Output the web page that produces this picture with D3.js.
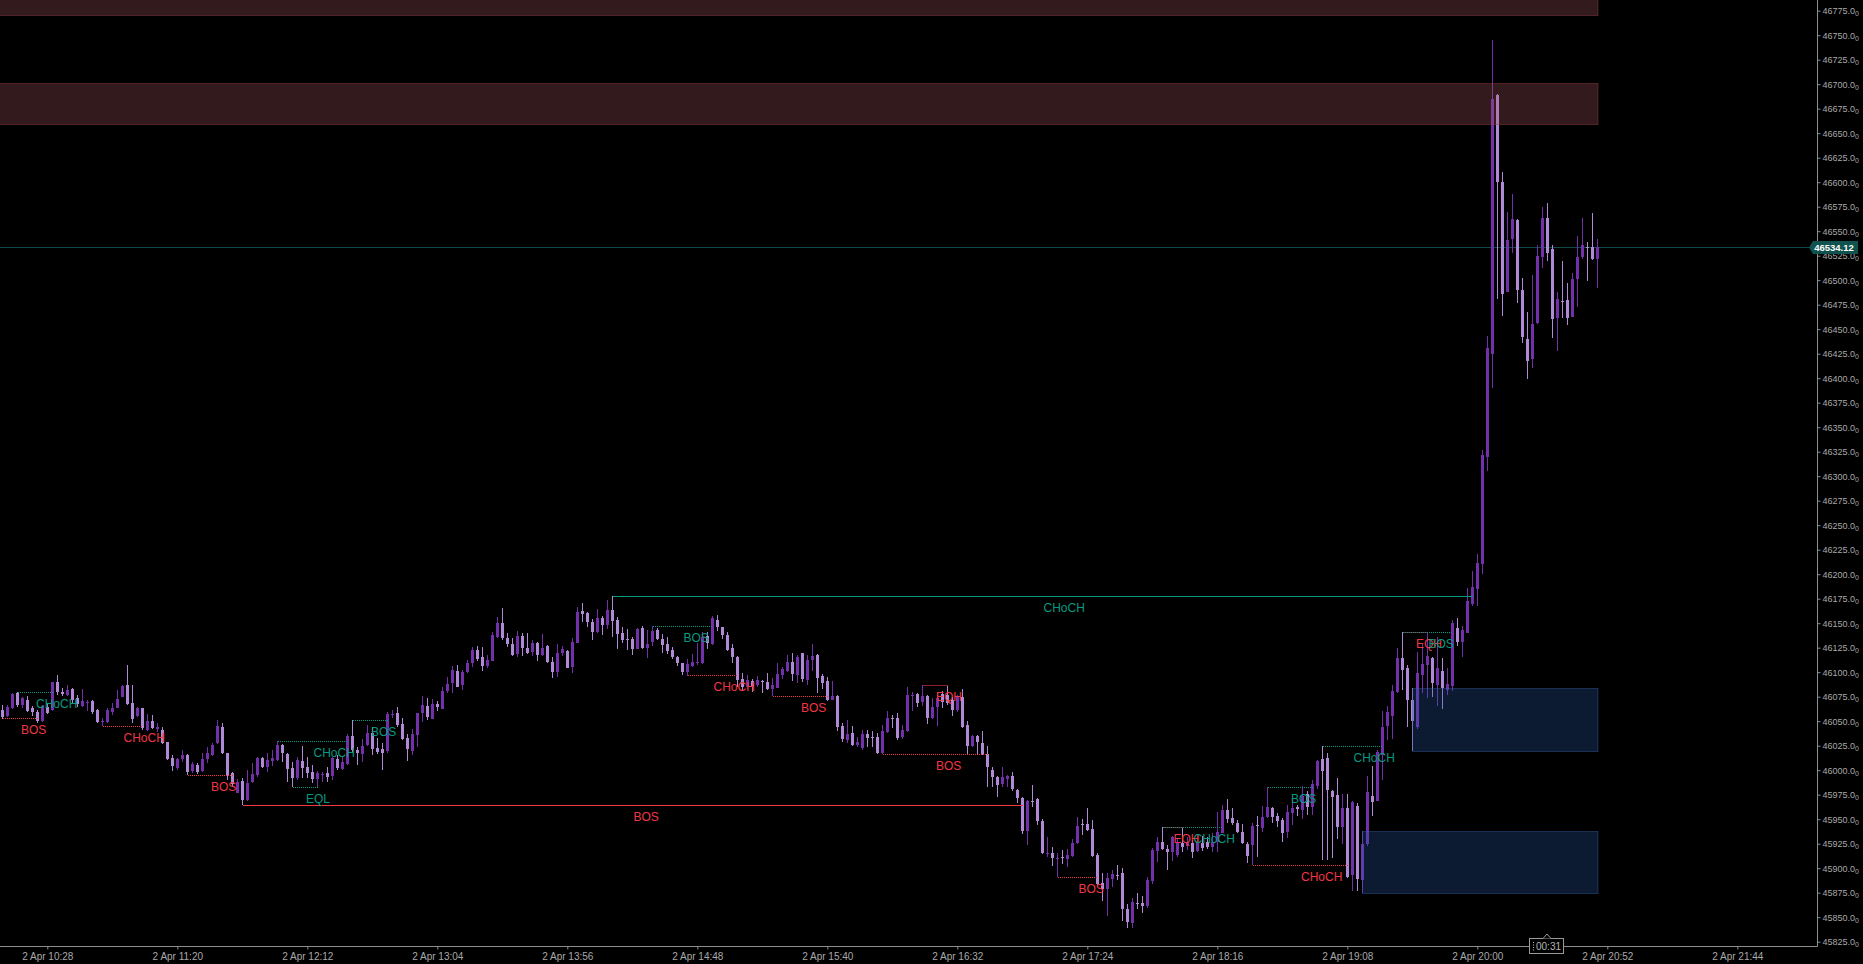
<!DOCTYPE html>
<html><head><meta charset="utf-8">
<script src="https://cdn.jsdelivr.net/npm/d3@7"></script>
<style>html,body{margin:0;padding:0;background:#000;overflow:hidden}</style>
</head><body>
<svg id="chart" width="1863" height="964"></svg>
<script>
// ---------------- DATA ----------------
const barMinutes = 2;
const firstBar = "2024-04-02 10:10";
const open = [
46061.5,46055.4,46063.2,46078.5,46066.6,46071.7,46063.2,46059.8,46050.6,46064.9,
46061.5,46089.7,46080.2,46076.8,46082.6,46073.4,46065.9,46069.7,46070.7,46061.5,
46050.3,46049.6,46059.8,46063.9,46075.1,46087.0,46068.3,46055.4,46063.2,46041.1,
46050.3,46041.8,46041.1,46028.5,46012.2,46002.7,46011.5,46015.6,45999.6,46005.4,
45999.6,46011.5,46015.6,46027.5,46043.8,46017.3,45996.9,45977.2,45989.4,45969.7,
45988.4,45995.2,46012.2,46003.7,46009.8,46010.5,46025.8,46016.3,46002.0,45991.8,
46009.8,46003.7,45997.9,45990.8,45996.2,45997.6,45994.2,46011.5,46001.3,46006.4,
46035.0,46020.7,46016.6,46025.8,46037.7,46022.4,46021.4,46020.0,46057.1,46058.1,
46047.2,46033.3,46020.0,46036.0,46058.1,46065.6,46052.3,46067.6,46062.5,46080.9,
46089.4,46101.3,46087.0,46100.6,46109.1,46122.7,46115.2,46106.4,46111.8,46136.3,
46150.6,46134.6,46128.8,46118.6,46137.0,46124.4,46120.3,46130.2,46117.6,46126.8,
46110.8,46100.6,46120.0,46122.0,46105.0,46130.2,46162.8,46160.8,46151.6,46141.4,
46155.7,46148.2,46163.5,46153.3,46140.4,46134.3,46133.6,46123.7,46144.8,46124.4,
46131.2,46143.1,46133.6,46128.8,46122.7,46115.2,46109.1,46100.6,46106.7,46109.8,
46109.8,46137.0,46128.8,46153.3,46145.8,46138.0,46124.4,46115.2,46092.8,46084.6,
46091.4,46087.0,46091.1,46090.4,46082.6,46083.6,46097.2,46101.6,46110.8,46097.2,
46119.3,46092.1,46112.5,46117.6,46096.2,46091.4,46071.7,46075.8,46045.2,46030.9,
46038.4,46025.8,46022.4,46037.0,46033.6,46033.6,46018.0,46039.4,46053.3,46053.0,
46033.6,46040.4,46076.5,46077.8,46070.0,46075.8,46053.0,46064.2,46077.8,46076.8,
46071.7,46061.5,46074.4,46046.2,46024.7,46034.9,46027.4,46016.5,46000.2,45993.4,
45985.9,45991.0,45994.1,45979.8,45971.3,45938.3,45968.2,45970.3,45948.5,45914.9,
45915.9,45909.8,45911.5,45909.4,45912.5,45925.4,45945.1,45945.1,45939.7,45913.5,
45885.3,45878.5,45888.7,45893.4,45895.5,45858.1,45844.5,45864.5,45864.9,45861.5,
45887.3,45917.9,45927.1,45919.3,45916.9,45913.5,45926.1,45922.7,45926.1,45917.9,
45926.1,45927.1,45922.0,45927.1,45936.3,45959.4,45950.9,45946.5,45937.3,45924.7,
45923.7,45944.4,45940.7,45951.9,45961.1,45953.3,45949.2,45937.3,45956.6,45962.4,
45959.1,45975.5,45962.8,45983.5,46011.9,46012.6,45978.4,45974.8,45942.0,45961.7,
45893.5,45963.9,45888.0,45924.5,45973.7,45968.9,46015.6,46044.7,46055.7,46079.4,
46114.0,46103.8,46072.1,46044.0,46097.6,46107.8,46114.0,46086.6,46101.2,46081.9,
46085.5,46144.9,46130.4,46140.2,46169.4,46185.0,46210.5,46320.0,46424.8,46689.0,
46600.6,46488.4,46541.8,46561.5,46490.1,46439.8,46419.4,46456.1,46524.1,46563.2,
46531.6,46461.2,46479.2,46479.9,46462.2,46501.0,46523.4,46534.0,46533.6,46521.7
];
const high = [
46066.6,46066.6,46078.5,46080.2,46075.1,46075.8,46065.6,46061.5,46066.6,46068.3,
46090.4,46097.2,46083.6,46087.0,46083.6,46076.8,46082.6,46071.7,46071.7,46062.2,
46053.0,46063.2,46068.3,46081.9,46087.0,46107.4,46087.0,46064.9,46063.9,46057.4,
46056.4,46048.6,46044.5,46029.2,46015.6,46012.2,46020.7,46016.3,46008.8,46007.8,
46017.3,46023.4,46027.5,46051.3,46048.6,46018.0,45998.6,45990.8,45991.8,46000.3,
46007.1,46013.9,46013.9,46017.3,46020.7,46030.0,46026.5,46017.3,46008.8,46013.2,
46024.8,46013.9,46005.4,45999.6,45998.6,46003.7,46013.9,46015.6,46013.9,46037.0,
46051.3,46024.1,46031.6,46046.2,46044.5,46032.6,46027.5,46059.8,46061.5,46064.2,
46053.0,46036.7,46041.8,46058.8,46075.8,46073.4,46072.4,46071.0,46085.3,46094.8,
46106.4,46107.4,46102.3,46112.5,46126.1,46126.8,46125.4,46117.6,46141.4,46156.0,
46165.2,46139.7,46134.6,46142.4,46139.7,46140.4,46132.9,46131.2,46139.0,46127.5,
46115.9,46128.8,46126.8,46122.7,46134.6,46166.9,46170.3,46161.5,46154.0,46164.2,
46157.4,46173.7,46178.0,46156.0,46145.8,46143.8,46136.3,46144.8,46147.2,46143.1,
46147.2,46144.8,46139.0,46135.6,46126.1,46116.6,46109.8,46113.2,46118.6,46130.2,
46141.4,46141.4,46157.4,46158.4,46146.5,46140.7,46128.8,46116.6,46098.9,46097.2,
46092.8,46096.2,46092.1,46098.9,46093.8,46109.8,46105.7,46117.6,46119.3,46117.6,
46120.0,46117.6,46128.8,46118.6,46098.2,46094.8,46091.4,46076.8,46048.6,46051.3,
46045.2,46034.3,46041.1,46041.1,46040.1,46038.4,46046.2,46060.8,46056.4,46058.1,
46046.2,46084.6,46080.2,46079.2,46087.0,46076.5,46073.4,46079.2,46081.2,46087.0,
46075.1,46076.8,46082.6,46050.6,46035.9,46035.9,46040.0,46024.7,46002.9,45994.1,
46003.6,45995.1,45998.5,45980.5,45972.3,45969.6,45984.9,45971.3,45949.9,45932.2,
45922.0,45915.2,45918.6,45919.3,45929.5,45951.9,45949.9,45961.1,45949.2,45915.2,
45895.5,45894.8,45898.2,45903.3,45899.9,45863.5,45869.3,45875.1,45871.7,45891.4,
45920.3,45932.2,45942.4,45923.7,45932.9,45929.5,45942.0,45932.2,45928.8,45933.9,
45932.9,45932.2,45935.6,45957.7,45964.5,45970.3,45961.1,45949.2,45945.1,45927.1,
45945.8,45953.3,45963.5,45982.5,45962.8,45956.7,45950.9,45964.5,45971.1,45964.6,
45983.5,45979.1,45990.1,46010.1,46024.3,46017.4,45979.9,45991.9,45975.5,45976.2,
45968.2,45966.4,45938.0,45994.5,46003.8,46021.0,46060.0,46065.9,46086.6,46124.9,
46140.9,46107.4,46084.1,46121.0,46128.5,46140.9,46115.8,46135.8,46114.0,46103.8,
46153.3,46154.8,46146.8,46186.1,46203.2,46220.4,46327.2,46443.2,46745.1,46689.7,
46610.8,46570.0,46588.0,46562.2,46502.0,46468.0,46505.4,46536.0,46574.4,46579.2,
46536.0,46488.4,46520.0,46497.6,46507.8,46545.2,46563.2,46539.4,46569.0,46541.8
];
const low = [
46052.0,46054.0,46062.2,46064.9,46063.2,46059.8,46055.4,46048.6,46049.6,46057.4,
46060.8,46076.8,46075.8,46075.8,46068.3,46064.9,46064.9,46060.8,46057.4,46048.6,
46045.2,46047.9,46056.4,46063.2,46074.4,46066.6,46048.6,46054.0,46041.1,46040.4,
46041.8,46039.4,46026.8,46010.5,45999.6,46000.3,46008.1,45995.2,45997.6,45996.2,
45998.6,46007.8,46014.6,46026.8,46016.6,45990.1,45983.3,45976.5,45964.0,45969.0,
45986.7,45993.5,46002.0,45998.6,46004.4,46009.8,46008.8,45988.4,45983.3,45990.1,
45991.8,45991.8,45986.7,45983.3,45988.4,45988.4,45990.1,46000.3,46000.3,46005.4,
46017.3,46005.4,46008.8,46024.8,46015.6,46016.6,46000.3,46017.3,46053.0,46044.5,
46030.9,46009.8,46015.6,46023.4,46049.6,46051.3,46052.0,46060.8,46062.2,46078.5,
46079.2,46084.6,46081.9,46098.9,46105.0,46111.8,46101.6,46104.0,46111.8,46134.6,
46132.9,46126.1,46116.6,46115.9,46116.6,46118.6,46116.9,46111.8,46116.6,46109.8,
46093.8,46095.5,46116.6,46104.0,46099.6,46130.2,46151.6,46145.8,46132.9,46139.7,
46138.0,46143.8,46136.3,46123.7,46130.2,46122.7,46117.6,46123.4,46123.4,46114.2,
46126.8,46132.9,46120.0,46118.6,46113.2,46106.4,46097.2,46096.2,46105.0,46107.4,
46108.4,46123.4,46127.8,46142.4,46133.6,46122.0,46109.8,46085.3,46081.9,46082.6,
46080.2,46084.6,46079.2,46081.9,46076.0,46083.6,46092.8,46100.6,46091.1,46089.4,
46090.4,46087.0,46101.6,46079.2,46082.6,46071.0,46071.7,46040.4,46029.2,46027.5,
46024.8,46024.1,46020.7,46024.1,46024.1,46016.6,46016.3,46038.4,46042.8,46030.9,
46031.6,46039.4,46060.8,46064.2,46065.6,46047.2,46052.0,46045.2,46063.2,46066.6,
46055.4,46059.8,46042.8,46015.6,46024.0,46015.5,46015.5,45983.2,45982.5,45972.3,
45982.5,45982.5,45979.1,45966.2,45934.9,45923.7,45962.8,45944.1,45914.5,45911.8,
45902.3,45890.7,45904.3,45900.9,45911.8,45924.7,45933.9,45938.3,45911.1,45882.9,
45867.0,45851.3,45881.2,45888.0,45846.5,45838.7,45838.7,45858.1,45854.0,45859.1,
45884.0,45906.7,45918.6,45898.2,45907.7,45911.8,45916.9,45918.6,45910.1,45916.9,
45917.9,45919.3,45916.9,45916.9,45935.6,45945.8,45944.1,45935.6,45924.7,45905.7,
45903.3,45911.8,45937.3,45950.9,45945.8,45942.4,45927.1,45931.0,45944.5,45952.9,
45950.7,45954.4,45954.4,45980.9,45908.1,45908.1,45909.9,45929.9,45924.5,45889.9,
45876.4,45876.4,45874.2,45922.7,45952.9,45968.2,45990.1,46030.9,46032.0,46078.3,
46081.9,46044.0,46020.0,46041.8,46078.3,46073.9,46074.6,46065.9,46062.2,46076.8,
46081.2,46126.7,46115.8,46139.5,46167.9,46167.9,46200.7,46305.3,46389.8,46480.6,
46463.6,46487.7,46528.2,46477.2,46436.4,46399.0,46410.2,46455.4,46512.2,46520.0,
46440.8,46428.2,46461.2,46454.4,46462.2,46473.1,46521.4,46499.6,46520.7,46491.8
];
const close = [
46054.0,46064.2,46077.8,46066.6,46073.4,46060.8,46059.8,46050.6,46065.6,46058.8,
46089.7,46080.2,46077.5,46081.9,46071.7,46067.6,46070.7,46070.0,46059.8,46049.6,
46050.6,46061.5,46063.2,46072.4,46086.0,46067.6,46052.0,46063.9,46042.8,46050.3,
46042.8,46043.8,46027.5,46011.5,46004.7,46011.5,46015.6,45998.6,46006.4,45997.9,
46011.5,46018.0,46025.8,46045.2,46017.3,45995.2,45986.0,45988.4,45969.7,45987.4,
45996.2,46012.9,46003.7,46010.5,46012.9,46025.8,46017.3,46001.3,45992.5,46010.5,
46002.0,45996.9,45990.8,45997.6,45996.6,45993.5,46012.2,46002.0,46008.1,46035.0,
46020.7,46017.3,46024.8,46037.7,46021.4,46018.3,46017.3,46057.4,46057.8,46046.2,
46031.6,46021.7,46037.0,46058.1,46066.6,46054.0,46067.6,46064.2,46081.2,46087.7,
46102.3,46085.3,46100.6,46109.8,46122.7,46113.2,46106.4,46112.5,46138.0,46150.6,
46134.6,46128.8,46117.6,46137.0,46124.4,46120.0,46130.2,46117.6,46124.4,46110.8,
46100.6,46120.0,46123.4,46104.7,46131.2,46161.8,46159.4,46151.0,46141.4,46155.7,
46148.2,46163.5,46152.6,46139.0,46132.9,46133.6,46123.7,46143.8,46124.4,46128.8,
46142.1,46133.6,46127.8,46122.0,46115.2,46109.8,46100.6,46108.4,46110.8,46110.5,
46135.6,46129.5,46155.0,46145.8,46138.0,46122.7,46115.2,46092.1,46084.6,46092.1,
46084.6,46092.1,46090.4,46082.6,46087.0,46098.2,46103.0,46110.8,46098.2,46115.9,
46092.8,46112.5,46116.6,46093.8,46089.4,46071.7,46075.8,46044.5,46031.6,46037.0,
46025.8,46029.2,46037.0,46032.6,46033.0,46018.0,46040.4,46053.0,46052.7,46032.6,
46041.1,46076.8,46077.1,46069.0,46075.8,46053.0,46064.9,46073.4,46070.0,46068.3,
46061.5,46075.1,46043.8,46024.8,46034.9,46029.1,46016.5,46002.9,45993.4,45984.9,
45992.7,45994.4,45980.5,45971.3,45938.3,45968.6,45967.6,45948.5,45915.2,45915.5,
45910.8,45910.4,45910.8,45913.5,45926.1,45943.1,45944.4,45939.0,45912.5,45884.0,
45878.5,45889.7,45894.1,45892.8,45858.1,45845.5,45865.9,45863.9,45861.5,45888.0,
45918.6,45927.1,45919.3,45916.9,45932.2,45927.1,45922.0,45927.1,45916.9,45927.1,
45920.3,45922.0,45927.1,45937.3,45959.4,45949.9,45946.5,45937.3,45925.4,45912.5,
45943.1,45943.8,45951.9,45962.8,45952.6,45948.5,45936.3,45957.7,45961.7,45960.9,
45973.7,45962.8,45985.7,46009.0,45999.2,45979.9,45972.6,45942.0,45961.7,45890.9,
45967.5,45888.8,45924.5,45977.3,45967.5,46018.5,46044.0,46059.3,46081.2,46114.0,
46102.3,46072.1,46050.2,46099.4,46108.5,46116.9,46088.5,46103.8,46084.1,46087.7,
46149.7,46130.4,46143.1,46172.3,46186.9,46211.6,46321.7,46430.6,46684.9,46600.6,
46486.0,46541.1,46562.2,46490.1,46442.5,46418.0,46455.4,46524.8,46563.2,46528.2,
46460.2,46480.6,46478.2,46461.2,46501.0,46524.1,46536.0,46533.3,46521.4,46534.12
];

// market structure (bar indices, price, label, side, style)
const structStart = [3, 0, 20, 37, 48, 55, 58, 70, 122, 130, 137, 154, 184, 176, 211, 232, 232, 250, 253, 264, 280, 280];
const structEnd   = [10, 7, 28, 46, 204, 69, 63, 77, 294, 142, 147, 165, 189, 197, 219, 236, 244, 269, 262, 276, 285, 290];
const structPrice = [46079.5, 46053.0, 46045.2, 45995.2, 45964.0, 46030.0, 45983.3, 46051.3, 46178.0, 46147.2, 46096.9, 46076.0, 46087.0, 46016.3, 45890.7, 45942.2, 45942.0, 45903.3, 45982.6, 46024.3, 46140.9, 46140.9];
const structLabel = ["CHoCH","BOS","CHoCH","BOS","BOS","CHoCH","EQL","BOS","CHoCH","BOS","CHoCH","BOS","EQH","BOS","BOS","EQH","CHoCH","CHoCH","BOS","CHoCH","EQH","BOS"];
const structSide  = ["bull","bear","bear","bear","bear","bull","bull","bull","bull","bull","bear","bear","bear","bear","bear","bear","bull","bear","bull","bull","bear","bull"];
const structStyle = ["dotted","dotted","dotted","dotted","solid","dotted","dotted","dotted","solid","dotted","dotted","dotted","eq","dotted","dotted","eq","dotted","dotted","dotted","dotted","eq","dotted"];

// order-block zones (null start = began before the visible window)
const zoneStart  = [null, null, 272, 282];
const zoneTop    = [46800, 46701, 45938.0, 46084.1];
const zoneBottom = [46771, 46659, 45874.2, 46020.0];
const zoneKind   = ["supply","supply","demand","demand"];

// axes
const yTickValues = [45825,45850,45875,45900,45925,45950,45975,46000,46025,46050,46075,46100,46125,46150,46175,46200,46225,46250,46275,46300,46325,46350,46375,46400,46425,46450,46475,46500,46525,46550,46575,46600,46625,46650,46675,46700,46725,46750,46775];
const xTickTimes = ["10:28","11:20","12:12","13:04","13:56","14:48","15:40","16:32","17:24","18:16","19:08","20:00","20:52","21:44"];
const countdownText = "00:31";
const countdownTime = "20:28";

// ---------------- CHART ----------------
const W = 1863, H = 964;
const plotRight = 1817, axisY = 946;
const parse = d3.timeParse("%Y-%m-%d %H:%M");
const t0 = parse(firstBar);
const MIN = 60000;
const times = open.map((_, i) => new Date(+t0 + i * barMinutes * MIN));
const atClock = s => parse("2024-04-02 " + s);

const x = d3.scaleTime().domain([t0, new Date(+t0 + 720 * MIN)]).range([2.3, 1802.3]);
const y = d3.scaleLinear().domain([45825, 46775]).range([941.7, 10.7]);

const BULL = "#7231ab", BEAR = "#b08ad6";
const GREEN = "#089981", RED = "#f23645", EQRED = "#8e1f2b";
const AXIS = "#8e8e8e", TXT = "#a9a9a9";

const svg = d3.select("#chart");
svg.append("rect").attr("width", W).attr("height", H).attr("fill", "#000");
svg.append("defs").append("clipPath").attr("id", "plot")
  .append("rect").attr("x", 0).attr("y", 0).attr("width", plotRight).attr("height", axisY);

const plot = svg.append("g").attr("clip-path", "url(#plot)");
const cx = i => Math.floor(x(times[i]));
const py = p => Math.round(y(p)) + 0.5;

// current price line
const lastPrice = close[close.length - 1];
plot.append("line").attr("x1", 0).attr("x2", plotRight)
  .attr("y1", py(lastPrice)).attr("y2", py(lastPrice))
  .attr("stroke", "#0f4a48").attr("stroke-width", 1);

// candles
const bars = times.map((t, i) => ({ i, t, o: open[i], h: high[i], l: low[i], c: close[i] }));
const cg = plot.append("g").attr("shape-rendering", "crispEdges");
cg.selectAll("rect.wick").data(bars).join("rect").attr("class", "wick")
  .attr("x", d => cx(d.i)).attr("width", 1)
  .attr("y", d => Math.round(y(d.h)))
  .attr("height", d => Math.max(1, Math.round(y(d.l)) - Math.round(y(d.h))))
  .attr("fill", d => d.c >= d.o ? BULL : BEAR);
cg.selectAll("rect.body").data(bars).join("rect").attr("class", "body")
  .attr("x", d => cx(d.i) - 1).attr("width", 3)
  .attr("y", d => Math.round(y(Math.max(d.o, d.c))))
  .attr("height", d => Math.max(1, Math.round(y(Math.min(d.o, d.c))) - Math.round(y(Math.max(d.o, d.c)))))
  .attr("fill", d => d.c >= d.o ? BULL : BEAR);

// zones (translucent, drawn above candles)
const lastX = cx(bars.length - 1) + 1;
const zones = zoneStart.map((s, k) => ({ s, top: zoneTop[k], bot: zoneBottom[k], kind: zoneKind[k] }));
plot.append("g").selectAll("rect").data(zones).join("rect")
  .attr("x", d => d.s === null ? -2 : cx(d.s) + 0.5)
  .attr("y", d => Math.round(y(d.top)) + 0.5)
  .attr("width", d => lastX - (d.s === null ? -2 : cx(d.s) + 0.5))
  .attr("height", d => Math.round(y(d.bot)) - Math.round(y(d.top)))
  .attr("fill", d => d.kind === "supply" ? "rgba(165,85,95,0.30)" : "rgba(40,88,165,0.30)")
  .attr("stroke", d => d.kind === "supply" ? "rgba(150,60,72,0.45)" : "rgba(60,100,175,0.40)")
  .attr("stroke-width", 1);

// structure lines + labels
const structs = structStart.map((s, k) => ({
  s, e: structEnd[k], p: structPrice[k], label: structLabel[k], side: structSide[k], style: structStyle[k]
}));
const order = structs.slice().sort((a, b) => (a.style === "eq" ? 0 : 1) - (b.style === "eq" ? 0 : 1));
const sg = plot.append("g");
sg.selectAll("line").data(order).join("line")
  .attr("x1", d => cx(d.s) + 0.5).attr("x2", d => cx(d.e) + 0.5)
  .attr("y1", d => py(d.p)).attr("y2", d => py(d.p))
  .attr("stroke", d => d.style === "eq" ? EQRED : (d.side === "bull" ? GREEN : RED))
  .attr("stroke-width", 1)
  .attr("stroke-dasharray", d => d.style === "dotted" ? "1,1" : null)
  .attr("shape-rendering", "crispEdges");
sg.selectAll("text").data(order).join("text")
  .attr("x", d => (cx(d.s) + cx(d.e)) / 2 + 1.5)
  .attr("y", d => py(d.p) + 15.5)
  .attr("fill", d => d.side === "bull" ? GREEN : RED)
  .attr("font-family", "'Liberation Sans', Arial, sans-serif")
  .attr("font-size", 12)
  .text(d => d.label);

// ---------------- AXES ----------------
// y axis
const yAxisG = svg.append("g").attr("transform", `translate(${plotRight + 0.5},0)`)
  .call(d3.axisRight(y).tickValues(yTickValues).tickSize(3).tickPadding(2).tickFormat(d3.format(".1f")));
yAxisG.select(".domain").remove();
yAxisG.selectAll(".tick line").attr("stroke", AXIS);
yAxisG.selectAll(".tick text")
  .attr("fill", TXT).attr("font-family", "'Liberation Sans', Arial, sans-serif").attr("font-size", 9)
  .each(function () {
    d3.select(this).append("tspan").attr("font-size", 7).attr("dy", 2).text("0");
  });
svg.append("line").attr("x1", plotRight + 0.5).attr("x2", plotRight + 0.5).attr("y1", 0).attr("y2", axisY + 0.5)
  .attr("stroke", AXIS);

// x axis
const xAxisG = svg.append("g").attr("transform", `translate(0,${axisY + 0.5})`)
  .call(d3.axisBottom(x).tickValues(xTickTimes.map(atClock)).tickSize(3).tickPadding(3)
    .tickFormat(d3.timeFormat("%-d %b %H:%M")));
xAxisG.select(".domain").remove();
xAxisG.selectAll(".tick line").attr("stroke", AXIS);
xAxisG.selectAll(".tick text").attr("fill", TXT)
  .attr("font-family", "'Liberation Sans', Arial, sans-serif").attr("font-size", 10);
svg.append("line").attr("x1", 0).attr("x2", plotRight + 0.5).attr("y1", axisY + 0.5).attr("y2", axisY + 0.5)
  .attr("stroke", AXIS);

// countdown box
const cdx = Math.round(x(atClock(countdownTime)));
const cdg = svg.append("g");
cdg.append("rect").attr("x", cdx - 17.5).attr("y", axisY - 7.5).attr("width", 34).attr("height", 15)
  .attr("fill", "#000").attr("stroke", "#9a9a9a");
cdg.append("path").attr("d", `M${cdx - 4},${axisY - 7.5} L${cdx},${axisY - 12} L${cdx + 4},${axisY - 7.5}`)
  .attr("fill", "#000").attr("stroke", "#9a9a9a");
[0, 1, 2, 3].forEach(k => cdg.append("rect").attr("x", cdx - 14).attr("y", axisY - 4 + k * 2.5)
  .attr("width", 1).attr("height", 1).attr("fill", "#bbb"));
cdg.append("text").attr("x", cdx + 1.5).attr("y", axisY + 3.5).attr("text-anchor", "middle")
  .attr("fill", "#b5b5b5").attr("font-family", "'Liberation Sans', Arial, sans-serif").attr("font-size", 10)
  .text(countdownText);

// current price tag
const ty = Math.round(y(lastPrice));
const tag = svg.append("g");
tag.append("path")
  .attr("d", `M${plotRight - 8},${ty + 0.5} L${plotRight - 4},${ty - 6} L${plotRight + 41},${ty - 6} L${plotRight + 41},${ty + 7} L${plotRight - 4},${ty + 7} Z`)
  .attr("fill", "#0f524e");
tag.append("text").attr("x", plotRight + 17).attr("y", ty + 4).attr("text-anchor", "middle")
  .attr("fill", "#ffffff").attr("font-weight", "bold")
  .attr("font-family", "'Liberation Sans', Arial, sans-serif").attr("font-size", 9.5)
  .text(d3.format(".2f")(lastPrice));
</script>
</body></html>
